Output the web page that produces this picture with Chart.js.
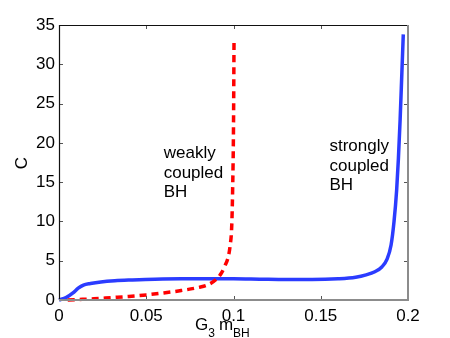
<!DOCTYPE html>
<html>
<head>
<meta charset="utf-8">
<script src="https://cdn.jsdelivr.net/npm/chart.js@4.4.1/dist/chart.umd.min.js"></script>
<style>
  html, body { margin: 0; padding: 0; background: #fff; }
  #wrap { width: 450px; height: 338px; }
</style>
</head>
<body>
<div id="wrap"><canvas id="cv" width="450" height="338"></canvas></div>
<script>
// --- data ---
const strongX = [0, 0.004, 0.008, 0.011, 0.014, 0.018, 0.024, 0.032, 0.042, 0.055, 0.07, 0.085, 0.1, 0.115, 0.13, 0.145, 0.16, 0.17, 0.176, 0.181, 0.185, 0.188, 0.1903, 0.192, 0.1935, 0.1945, 0.1955, 0.1965, 0.1973];
const strongC = [0, 0.3, 0.9, 1.5, 1.9, 2.1, 2.3, 2.45, 2.55, 2.65, 2.7, 2.7, 2.7, 2.65, 2.6, 2.6, 2.7, 2.9, 3.2, 3.6, 4.2, 5.2, 7, 10, 14, 18, 23, 29, 33.8];

const weakX = [0.005, 0.01, 0.02, 0.03, 0.04, 0.05, 0.06, 0.07, 0.08, 0.085, 0.09, 0.093, 0.095, 0.097, 0.098, 0.099, 0.0995, 0.1, 0.1003];
const weakC = [0, 0.05, 0.15, 0.3, 0.45, 0.65, 0.9, 1.2, 1.6, 1.9, 2.6, 3.4, 4.3, 5.5, 6.8, 9.5, 14, 22, 33];

const xTickLabels = ['0', '0.05', '0.1', '0.15', '0.2'];
const yTickLabels = ['0', '5', '10', '15', '20', '25', '30', '35'];

const textLabels = [
    { lines: ['weakly', 'coupled', 'BH'], x: 0.06, y: 18.05 },
    { lines: ['strongly', 'coupled', 'BH'], x: 0.155, y: 18.95 }
];

const FONT = '"Liberation Sans", Arial, Helvetica, sans-serif';

function toPoints(xs, ys) {
    return xs.map((x, i) => ({ x: x, y: ys[i] }));
}

// frame, inward ticks, text labels and axis titles
const decoPlugin = {
    id: 'deco',
    afterDraw(chart) {
        const { ctx, chartArea: a, scales } = chart;
        const xs = scales.x, ys = scales.y;
        ctx.save();

        // tick marks pointing inward on all four sides
        ctx.strokeStyle = '#555';
        ctx.lineWidth = 1;
        const tl = 4;
        xs.ticks.forEach(t => {
            const px = Math.round(xs.getPixelForValue(t.value)) + 0.5;
            ctx.beginPath();
            ctx.moveTo(px, a.bottom); ctx.lineTo(px, a.bottom - tl);
            ctx.moveTo(px, a.top); ctx.lineTo(px, a.top + tl);
            ctx.stroke();
        });
        ys.ticks.forEach(t => {
            const py = Math.round(ys.getPixelForValue(t.value)) + 0.5;
            ctx.beginPath();
            ctx.moveTo(a.left, py); ctx.lineTo(a.left + tl, py);
            ctx.moveTo(a.right, py); ctx.lineTo(a.right - tl, py);
            ctx.stroke();
        });

        // box
        ctx.lineWidth = 1.2;
        ctx.strokeStyle = '#111';
        ctx.beginPath();
        ctx.moveTo(a.left + 0.5, a.bottom); ctx.lineTo(a.left + 0.5, a.top + 0.5); ctx.lineTo(a.right, a.top + 0.5);
        ctx.stroke();
        ctx.lineWidth = 2;
        ctx.strokeStyle = '#8c8c8c';
        ctx.beginPath();
        ctx.moveTo(a.right, a.top); ctx.lineTo(a.right, a.bottom); ctx.lineTo(a.left, a.bottom);
        ctx.stroke();

        // in-plot text labels
        ctx.fillStyle = '#000';
        ctx.font = '17px ' + FONT;
        ctx.textAlign = 'left';
        ctx.textBaseline = 'alphabetic';
        textLabels.forEach(lbl => {
            const px = xs.getPixelForValue(lbl.x);
            const py = ys.getPixelForValue(lbl.y);
            lbl.lines.forEach((s, i) => ctx.fillText(s, px, py + i * 19.5));
        });

        // x title: G_3 m_BH
        let x = 195;
        ctx.font = '17px ' + FONT;
        ctx.fillText('G', x, 330); x += ctx.measureText('G').width;
        ctx.font = '12px ' + FONT;
        ctx.fillText('3', x, 337); x += ctx.measureText('3').width + 4;
        ctx.font = '17px ' + FONT;
        ctx.fillText('m', x, 330); x += ctx.measureText('m').width;
        ctx.font = '12px ' + FONT;
        ctx.fillText('BH', x, 337);

        // y title
        ctx.font = '17px ' + FONT;
        ctx.translate(27, 163);
        ctx.rotate(-Math.PI / 2);
        ctx.textAlign = 'center';
        ctx.fillText('C', 0, 0);

        ctx.restore();
    }
};

new Chart(document.getElementById('cv'), {
    type: 'line',
    data: {
        datasets: [
            {
                label: 'weakly coupled BH',
                data: toPoints(weakX, weakC),
                borderColor: '#ff0000',
                borderWidth: 3.5,
                borderDash: [7, 5],
                pointRadius: 0,
                cubicInterpolationMode: 'monotone',
                clip: false
            },
            {
                label: 'strongly coupled BH',
                data: toPoints(strongX, strongC),
                borderColor: '#2b3cff',
                borderWidth: 3.5,
                pointRadius: 0,
                cubicInterpolationMode: 'monotone',
                clip: false
            }
        ]
    },
    options: {
        responsive: false,
        animation: false,
        devicePixelRatio: 1,
        layout: { padding: { top: 25, right: 42, left: 0, bottom: 0 } },
        plugins: { legend: { display: false }, tooltip: { enabled: false } },
        scales: {
            x: {
                type: 'linear',
                min: 0, max: 0.2,
                grid: { display: false, drawTicks: false },
                border: { display: false },
                afterFit: s => { s.height = 38; },
                afterBuildTicks: s => { s.ticks = xTickLabels.map(v => ({ value: parseFloat(v) })); },
                ticks: {
                    padding: 6,
                    color: '#000',
                    font: { family: FONT, size: 17 },
                    callback: (v, i) => xTickLabels[i]
                }
            },
            y: {
                type: 'linear',
                min: 0, max: 35,
                grid: { display: false, drawTicks: false },
                border: { display: false },
                afterFit: s => { s.width = 59; },
                afterBuildTicks: s => { s.ticks = yTickLabels.map(v => ({ value: parseFloat(v) })); },
                ticks: {
                    padding: 4,
                    color: '#000',
                    font: { family: FONT, size: 17 },
                    callback: (v, i) => yTickLabels[i]
                }
            }
        }
    },
    plugins: [decoPlugin]
});
</script>
</body>
</html>
